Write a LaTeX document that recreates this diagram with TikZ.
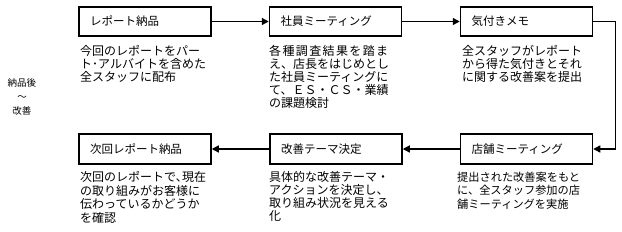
\documentclass[tikz,border=0pt]{standalone}
\usepackage{fontspec}
\setmainfont{Noto Sans CJK JP}
\usetikzlibrary{arrows.meta}
\tikzset{
  stepbox/.style={draw, line width=1.5pt, minimum width=132pt, minimum height=29pt,
    text width=110pt, inner xsep=11pt, inner ysep=0pt, align=left,
    font=\fontsize{11.5}{13}\selectfont},
  desc/.style={anchor=north west, inner sep=0pt, align=left,
    font=\fontsize{12}{13}\selectfont},
  arr/.style={line width=1.3pt, -{Triangle[length=7pt,width=7pt]}}
}
\begin{document}
\begin{tikzpicture}[x=1pt,y=-1pt]
\path[use as bounding box] (0,0) rectangle (622,231);
% boxes
\node[stepbox] (b1) at (145,21.5) {レポート納品};
\node[stepbox] (b2) at (335.5,21.5) {社員ミーティング};
\node[stepbox] (b3) at (526.5,21.5) {気付きメモ};
\node[stepbox, minimum height=30pt] (b4) at (526.5,149) {店舗ミーティング};
\node[stepbox, minimum height=30pt] (b5) at (336,149) {改善テーマ決定};
\node[stepbox, minimum height=30pt] (b6) at (145,149) {次回レポート納品};
% descriptions
\node[desc] (d1) at (80,45) {今回のレポートをパー\\ト･アルバイトを含めた\\全スタッフに配布};
\node[desc] (d2) at (269,45) {{\addfontfeature{LetterSpace=11.5}各種調査結果を踏ま}\\え、店長をはじめとし\\た社員ミーティングに\\て、ＥＳ・ＣＳ・業績\\の課題検討};
\node[desc] (d3) at (462,45) {全スタッフがレポート\\から得た気付きとそれ\\に関する改善案を提出};
\node[desc, font=\fontsize{11.2}{13.5}\selectfont] (d4) at (457,171.5) {提出された改善案をもと\\に、全スタッフ参加の店\\舗ミーティングを実施};
\node[desc] (d5) at (269,171.5) {具体的な改善テーマ・\\アクションを決定し、\\取り組み状況を見える\\化};
\node[desc, font=\fontsize{12}{13.4}\selectfont] (d6) at (80,171.5) {次回のレポートで､現在\\の取り組みがお客様に\\伝わっているかどうか\\を確認};
% left label
\node[align=center, inner sep=0pt, font=\fontsize{9.5}{14.3}\selectfont] (side) at (22,97) {納品後\\〜\\改善};
% connectors
\draw[arr] (b1) -- (b2);
\draw[arr] (b2) -- (b3);
\draw[arr] (b3.east) -- ++(22,0) |- (b4.east);
\draw[arr] (b4) -- (b5);
\draw[arr] (b5) -- (b6);
\end{tikzpicture}
\end{document}
